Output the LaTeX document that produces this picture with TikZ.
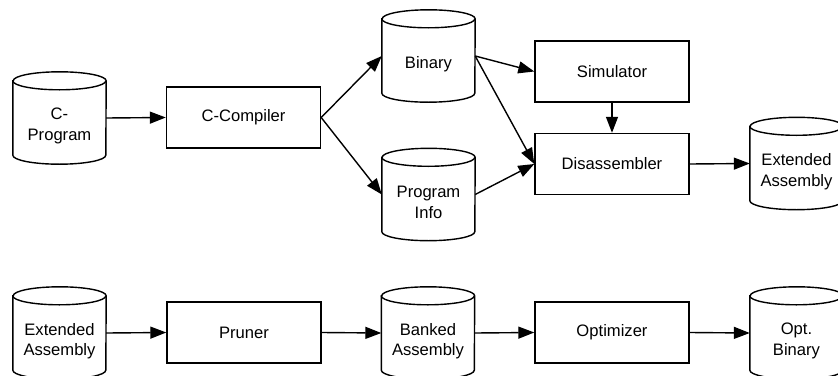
\documentclass[tikz,border=0pt]{standalone}
\usepackage{fontspec}
\setmainfont{Liberation Sans}
\usetikzlibrary{arrows.meta}

% cylinder (data store): body node #1 centred at #2, text #3
\newcommand\dbcyl[3]{%
  \node[dbbody] (#1) at (#2) {};
  \draw[line] ([yshift=-9pt]#1.north west)
      -- ([yshift=9pt]#1.south west) arc[start angle=180,end angle=360,x radius=46.5pt,y radius=9pt]
      -- ([yshift=-9pt]#1.north east) arc[start angle=0,end angle=180,x radius=46.5pt,y radius=9pt]
      -- cycle;
  \draw[line] ([yshift=-9pt]#1.north west) arc[start angle=180,end angle=360,x radius=46.5pt,y radius=9pt];
  \node[dbtext] (#1-t) at ([yshift=-8pt]#1.center) {#3};
}

\begin{document}
\begin{tikzpicture}[x=1pt,y=-1pt,
  line/.style={line width=1.4pt,draw=black},
  proc/.style={line,rectangle,minimum width=154pt,minimum height=61pt,inner sep=0pt,
               font=\fontsize{16.6}{20.5}\selectfont},
  dbbody/.style={rectangle,minimum width=93pt,minimum height=92pt,inner sep=0pt},
  dbtext/.style={align=center,inner sep=0pt,font=\fontsize{16.6}{20.5}\selectfont},
  flow/.style={line,-{Triangle[length=16pt,width=12pt]}}]

\useasboundingbox (0,0) rectangle (838,375);

% upper row: compilation and disassembly
\dbcyl{cprog}{59.5,118}{C-\\Program}
\node[proc] (ccomp) at (243.5,117.5) {C-Compiler};
\dbcyl{binary}{428.5,56}{Binary}
\dbcyl{pinfo}{428.5,194.5}{Program\\Info}
\node[proc] (sim) at (612,71.5) {Simulator};
\node[proc] (disasm) at (612,164) {Disassembler};
\dbcyl{extasm}{796.5,163.5}{Extended\\Assembly}

\draw[flow] (cprog.east) -- (ccomp.west);
\draw[flow] (ccomp.east) -- (binary.west);
\draw[flow] (ccomp.east) -- (pinfo.west);
\draw[flow] (binary.east) -- (sim.west);
\draw[flow] (binary.east) -- (disasm.west);
\draw[flow] (pinfo.east) -- (disasm.west);
\draw[flow] (sim.south) -- (disasm.north);
\draw[flow] (disasm.east) -- (extasm.west);

% lower row: pruning and optimization
\dbcyl{extasmb}{59.5,333}{Extended\\Assembly}
\node[proc] (pruner) at (244,332.5) {Pruner};
\dbcyl{banked}{428,333}{Banked\\Assembly}
\node[proc] (optim) at (612,332.5) {Optimizer};
\dbcyl{optbin}{796.5,333}{Opt.\\Binary}

\draw[flow] (extasmb.east) -- (pruner.west);
\draw[flow] (pruner.east) -- (banked.west);
\draw[flow] (banked.east) -- (optim.west);
\draw[flow] (optim.east) -- (optbin.west);
\end{tikzpicture}
\end{document}
